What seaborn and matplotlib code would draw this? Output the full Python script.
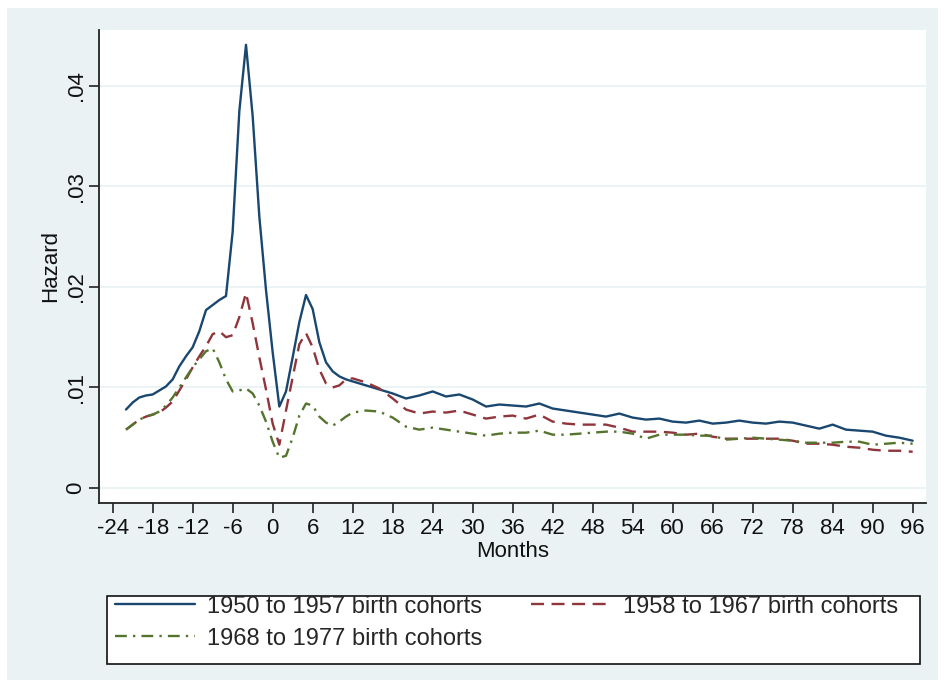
import numpy as np
import pandas as pd
import matplotlib
matplotlib.use("Agg")
import matplotlib.pyplot as plt
import seaborn as sns
from matplotlib.patches import Rectangle
from matplotlib.ticker import FuncFormatter

# months: monthly around the event, every 2 months afterwards
months = list(range(-22, 13)) + list(range(14, 97, 2))

hazard_1950_57 = [
    .0078, .0085, .0090, .0092, .0093, .0097, .0101, .0108, .0121, .0131,
    .0140, .0156, .0177, .0182, .0187, .0191, .0255, .0375, .0441, .0370,
    .0270, .0197, .0135, .0081, .0096, .0130, .0165, .0192, .0178, .0145,
    .0125, .0116, .0111, .0108, .0106,
    .0102, .0098, .0094, .0089, .0092, .0096, .0091, .0093, .0088, .0081,
    .0083, .0082, .0081, .0084, .0079, .0077, .0075, .0073, .0071, .0074,
    .0070, .0068, .0069, .0066, .0065, .0067, .0064, .0065, .0067, .0065,
    .0064, .0066, .0065, .0062, .0059, .0063, .0058, .0057, .0056, .0052,
    .0050, .0047,
]

hazard_1958_67 = [
    .0058, .0063, .0068, .0071, .0073, .0075, .0080, .0086, .0097, .0108,
    .0120, .0131, .0141, .0153, .0156, .0150, .0152, .0170, .0194, .0164,
    .0130, .0098, .0064, .0043, .0077, .0110, .0143, .0154, .0140, .0118,
    .0104, .0100, .0102, .0108, .0109,
    .0105, .0099, .0089, .0078, .0074, .0076, .0075, .0077, .0073, .0069,
    .0071, .0072, .0069, .0073, .0066, .0064, .0063, .0063, .0063, .0060,
    .0056, .0056, .0056, .0055, .0053, .0054, .0051, .0049, .0049, .0049,
    .0049, .0049, .0047, .0044, .0044, .0043, .0041, .0040, .0038, .0037,
    .0037, .0036,
]

hazard_1968_77 = [
    .0058, .0063, .0068, .0071, .0073, .0076, .0082, .0090, .0100, .0110,
    .0120, .0128, .0136, .0139, .0125, .0108, .0096, .0097, .0099, .0094,
    .0082, .0066, .0046, .0030, .0032, .0050, .0072, .0084, .0082, .0071,
    .0065, .0062, .0066, .0071, .0075,
    .0077, .0076, .0070, .0061, .0058, .0060, .0058, .0056, .0054, .0052,
    .0054, .0055, .0055, .0057, .0053, .0053, .0054, .0055, .0056, .0056,
    .0054, .0049, .0053, .0053, .0053, .0052, .0052, .0048, .0049, .0050,
    .0049, .0048, .0047, .0045, .0045, .0045, .0046, .0046, .0043, .0044,
    .0045, .0044,
]

labels = ["1950 to 1957 birth cohorts", "1958 to 1967 birth cohorts",
          "1968 to 1977 birth cohorts"]
colores = ["#1a476f", "#90353b", "#55752f"]
estilos = ["-", (0, (5.5, 3.2)), (0, (5, 2.6, 1, 2.6))]

fondo = "#eaf2f3"

sns.set_theme(style="white")
plt.rcParams["font.family"] = ["Liberation Sans", "DejaVu Sans"]
plt.rcParams["axes.unicode_minus"] = False

fig = plt.figure(figsize=(9.47, 6.88), dpi=100)
fig.patch.set_facecolor("white")
fig.patches.append(Rectangle((7 / 947, 8 / 688), 931 / 947, 672 / 688,
                             transform=fig.transFigure, facecolor=fondo,
                             edgecolor="none", zorder=-10))
# caja de la leyenda (más alta abajo, como en Stata)
fig.patches.append(Rectangle((107 / 947, 1 - 664 / 688), 813 / 947, 68 / 688,
                             transform=fig.transFigure, facecolor="white",
                             edgecolor="#111111", linewidth=1.2, zorder=-5))

ax = fig.add_axes([99 / 947, 1 - 503 / 688, 827 / 947, 473 / 688])
ax.set_facecolor("white")

series = [hazard_1950_57, hazard_1958_67, hazard_1968_77]
handles = []
for vals, lab, col, ls in zip(series, labels, colores, estilos):
    df = pd.DataFrame({"month": months, "hazard": vals})
    sns.lineplot(data=df, x="month", y="hazard", ax=ax, color=col,
                 linewidth=1.7, linestyle=ls, label=lab, legend=False)
    handles.append(ax.get_lines()[-1])

ax.set_xlim(-26.05, 98.0)
ax.set_ylim(-0.0015, 0.04557)
ax.set_xticks(range(-24, 97, 6))
ax.set_yticks([0, .01, .02, .03, .04])
ax.yaxis.set_major_formatter(FuncFormatter(
    lambda v, p: "0" if abs(v) < 1e-9 else f"{v:.2f}".lstrip("0")))

ax.grid(axis="y", color=fondo, linewidth=1.3)
ax.grid(axis="x", visible=False)
ax.set_axisbelow(True)

for s in ["top", "right"]:
    ax.spines[s].set_visible(False)
for s in ["left", "bottom"]:
    ax.spines[s].set_color("#222222")
    ax.spines[s].set_linewidth(1.3)

ax.tick_params(axis="both", direction="out", length=7, width=1.2,
               color="#222222", labelsize=16, labelcolor="#111111",
               left=True, bottom=True)
ax.tick_params(axis="x", pad=4)
ax.tick_params(axis="y", pad=2)
for lbl in ax.get_yticklabels():
    lbl.set_rotation(90)
    lbl.set_va("center")

ax.set_xlabel("Months", fontsize=16, color="#111111", labelpad=1)
ax.set_ylabel("Hazard", fontsize=16, color="#111111", labelpad=3)

# orden por filas como en el original
leg = fig.legend([handles[0], handles[2], handles[1]],
                 [labels[0], labels[2], labels[1]],
                 ncol=2, loc="upper left", mode="expand",
                 bbox_to_anchor=(110 / 947, 1 - 591 / 688, 793 / 947, 0),
                 fontsize=17, frameon=False,
                 handlelength=3.4, handletextpad=0.5,
                 borderaxespad=0, labelspacing=0.42, borderpad=0.2,
                 columnspacing=1.5)

fig.savefig("out.png", dpi=100)
